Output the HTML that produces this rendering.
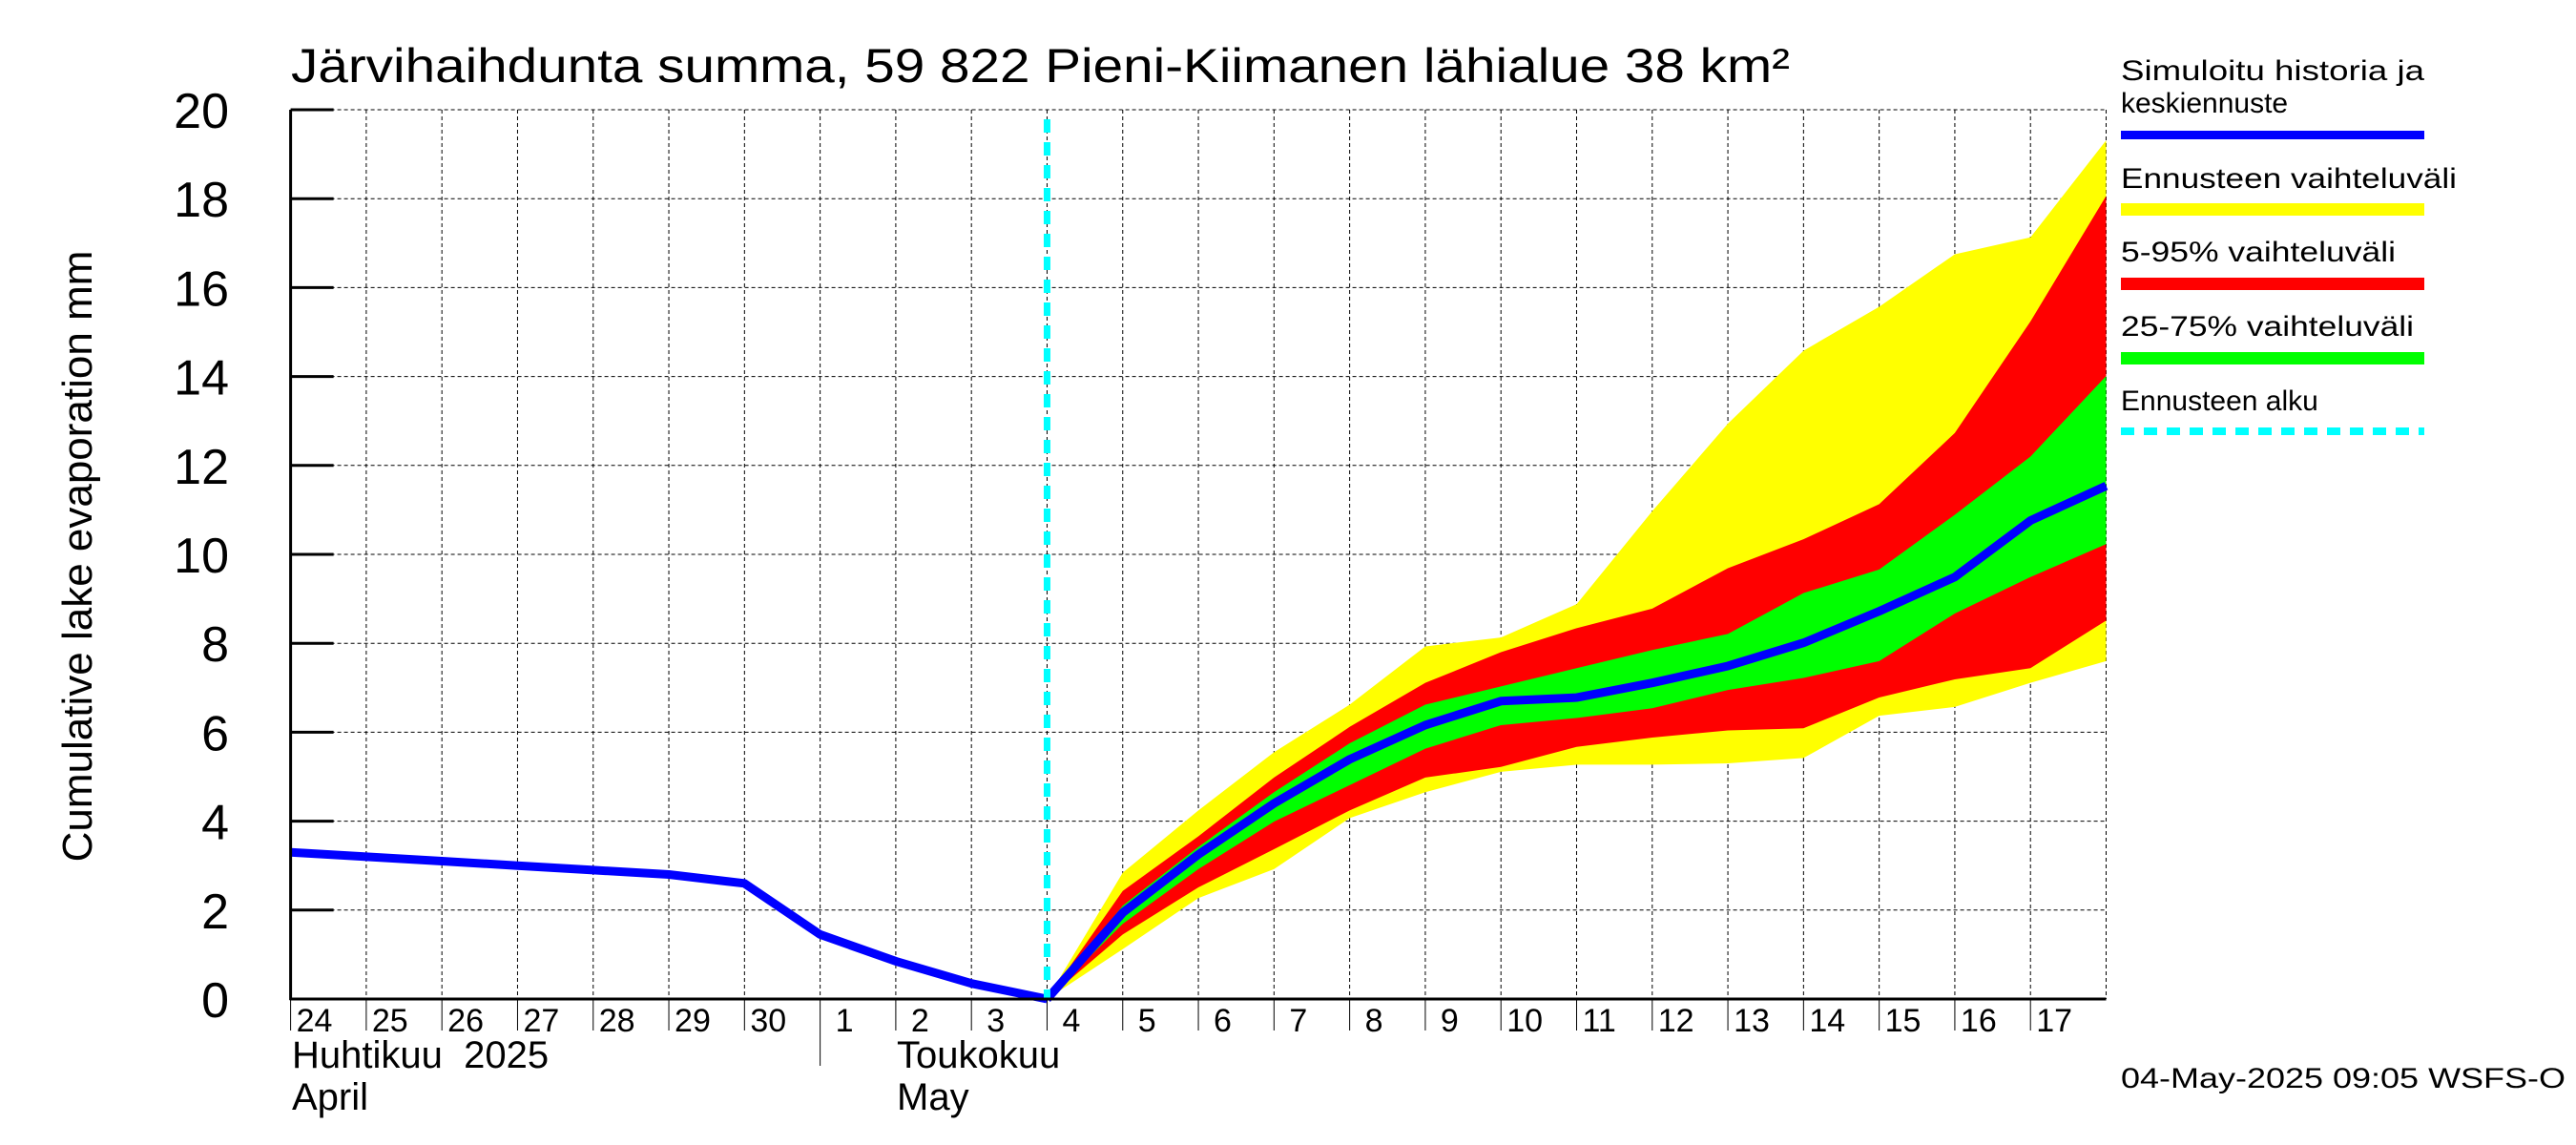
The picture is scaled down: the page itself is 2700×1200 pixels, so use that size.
<!DOCTYPE html>
<html><head><meta charset="utf-8"><style>
html,body{margin:0;padding:0;background:#fff;}
svg{display:block;font-family:"Liberation Sans",sans-serif;}
</style></head><body>
<svg id="chart" width="2700" height="1200" viewBox="0 0 2700 1200" xmlns="http://www.w3.org/2000/svg">
<text x="305" y="86" font-size="50" textLength="1571" lengthAdjust="spacingAndGlyphs">Järvihaihdunta summa, 59 822 Pieni-Kiimanen lähialue 38 km²</text>
<text transform="translate(96,583) rotate(-90)" text-anchor="middle" font-size="44">Cumulative lake evaporation   mm</text>
<g id="plot"></g>
<g font-size="30">
 <text x="2223" y="84" textLength="318" lengthAdjust="spacingAndGlyphs">Simuloitu historia ja</text>
 <text x="2223" y="118">keskiennuste</text>
 <rect x="2223" y="137" width="318" height="9" fill="#0000ff"/>
 <text x="2223" y="197" textLength="352" lengthAdjust="spacingAndGlyphs">Ennusteen vaihteluväli</text>
 <rect x="2223" y="213" width="318" height="13" fill="#ffff00"/>
 <text x="2223" y="274" textLength="288" lengthAdjust="spacingAndGlyphs">5-95% vaihteluväli</text>
 <rect x="2223" y="291" width="318" height="13" fill="#ff0000"/>
 <text x="2223" y="352" textLength="307" lengthAdjust="spacingAndGlyphs">25-75% vaihteluväli</text>
 <rect x="2223" y="369" width="318" height="13" fill="#00ff00"/>
 <text x="2223" y="430">Ennusteen alku</text>
 <line x1="2223" y1="452" x2="2541" y2="452" stroke="#00ffff" stroke-width="8" stroke-dasharray="14,10"/>
</g>
<text x="2223" y="1140" font-size="30" textLength="466" lengthAdjust="spacingAndGlyphs">04-May-2025 09:05 WSFS-O</text>
</svg>
<script>
const histDays=[0,1,2,3,4,5,6,7,8,9,10];
const histValues=[3.3,3.2,3.1,3.0,2.9,2.8,2.6,1.45,0.85,0.35,0];
const fcDays=[10,11,12,13,14,15,16,17,18,19,20,21,22,23,24];
const median=[0,1.94,3.25,4.40,5.39,6.16,6.70,6.78,7.11,7.49,8.01,8.72,9.49,10.76,11.54];
const rangeHi=[0,2.84,4.24,5.55,6.62,7.93,8.13,8.88,10.97,12.94,14.58,15.57,16.75,17.13,19.31];
const rangeLo=[0,1.12,2.27,2.92,4.07,4.65,5.11,5.27,5.27,5.30,5.42,6.37,6.57,7.11,7.60];
const p95=[0,2.43,3.66,4.98,6.12,7.11,7.80,8.34,8.78,9.69,10.34,11.13,12.73,15.24,18.06];
const p05=[0,1.45,2.51,3.37,4.24,4.98,5.22,5.67,5.88,6.04,6.09,6.78,7.19,7.44,8.51];
const p75=[0,2.10,3.42,4.65,5.75,6.62,7.03,7.44,7.85,8.21,9.13,9.66,10.89,12.20,14.01];
const p25=[0,1.69,2.92,3.99,4.81,5.63,6.16,6.32,6.54,6.95,7.22,7.60,8.67,9.49,10.23];
const yTicks=[0,2,4,6,8,10,12,14,16,18,20];
const dayLabels=["24","25","26","27","28","29","30","1","2","3","4","5","6","7","8","9","10","11","12","13","14","15","16","17"];
const forecastStart=10;

const X0=304.6,X1=2207.5,Y0=1047,Y1=115,DMAX=24,VMAX=20;
const xs=d=>X0+(X1-X0)*d/DMAX;
const ys=v=>Y0-(Y0-Y1)*v/VMAX;
const NS="http://www.w3.org/2000/svg";
const plot=document.getElementById('plot');
function mk(tag,attrs){const e=document.createElementNS(NS,tag);for(const k in attrs)e.setAttribute(k,attrs[k]);plot.appendChild(e);return e;}

// grid
for(let i=1;i<=DMAX;i++){
 const g=mk('line',{x1:xs(i),y1:Y1,x2:xs(i),y2:Y0,stroke:'#000','stroke-width':1,'stroke-dasharray':'4,3'});
 
 
}
yTicks.forEach(v=>{
 if(v>0){const g=mk('line',{x1:X0,y1:ys(v),x2:X1,y2:ys(v),stroke:'#000','stroke-width':1,'stroke-dasharray':'4,3'});
 
 }
 const t=mk('line',{x1:X0,y1:ys(v),x2:X0+45,y2:ys(v),stroke:'#000','stroke-width':3});
 
 
 const l=mk('text',{x:240,y:ys(v)+19,'text-anchor':'end','font-size':52});
 l.textContent=v;
 
 
});
function band(hi,lo,fill,name){
 let pts=fcDays.map((d,i)=>xs(d)+','+ys(hi[i]));
 for(let i=fcDays.length-1;i>=0;i--)pts.push(xs(fcDays[i])+','+ys(lo[i]));
 const p=mk('polygon',{points:pts.join(' '),fill:fill});
 
 
}
band(rangeHi,rangeLo,'#ffff00','forecast-range-band');
band(p95,p05,'#ff0000','band-5-95');
band(p75,p25,'#00ff00','band-25-75');
const hp=mk('polyline',{points:histDays.map((d,i)=>xs(d)+','+ys(histValues[i])).join(' '),fill:'none',stroke:'#0000ff','stroke-width':9,'stroke-linejoin':'round'});


const mp=mk('polyline',{points:fcDays.map((d,i)=>xs(d)+','+ys(median[i])).join(' '),fill:'none',stroke:'#0000ff','stroke-width':9,'stroke-linejoin':'round'});


const fs=mk('line',{x1:xs(forecastStart),y1:125,x2:xs(forecastStart),y2:Y0,stroke:'#00ffff','stroke-width':7,'stroke-dasharray':'14,10'});


// axes
const ya=mk('line',{x1:X0,y1:Y1,x2:X0,y2:Y0+1,stroke:'#000','stroke-width':3});


const xa=mk('line',{x1:X0-1,y1:Y0,x2:X1,y2:Y0,stroke:'#000','stroke-width':3});


for(let i=0;i<DMAX;i++){
 const t=mk('line',{x1:xs(i),y1:Y0,x2:xs(i),y2:(i===7?1117:1080),stroke:'#000','stroke-width':1});
 
 
 const l=mk('text',{x:xs(i)+6+(dayLabels[i].length===1?10:0),y:1081,'font-size':34});
 l.textContent=dayLabels[i];
 
 
}
[["Huhtikuu  2025",306,1119],["April",306,1163],["Toukokuu",940,1119],["May",940,1163]].forEach(a=>{
 const l=mk('text',{x:a[1],y:a[2],'font-size':40,'xml:space':'preserve'});
 l.style.whiteSpace='pre';
 l.textContent=a[0];
 
 
});
</script>
</body></html>
